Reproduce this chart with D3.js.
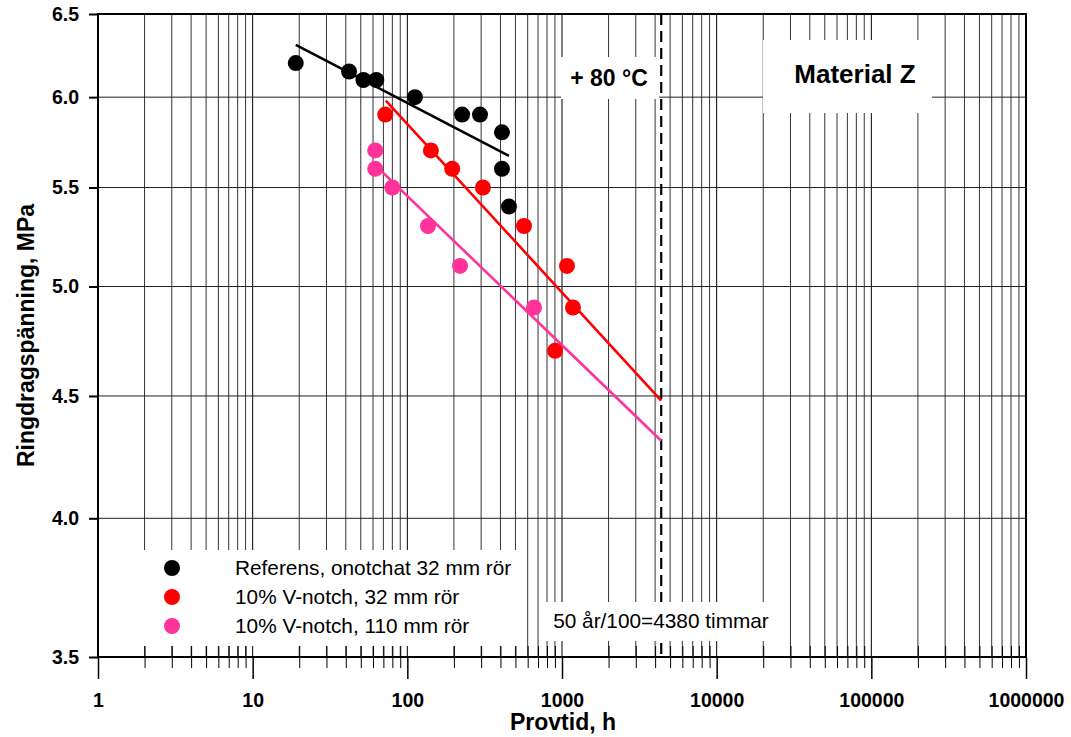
<!DOCTYPE html>
<html>
<head>
<meta charset="utf-8">
<script src="https://cdn.jsdelivr.net/npm/d3@7"></script>
<style>
  html, body { margin: 0; padding: 0; background: #fff; }
  svg { display: block; font-family: "Liberation Sans", Arial, sans-serif; }
</style>
</head>
<body>
<svg id="chart" width="1071" height="737"></svg>
<script>
// ---------- data ----------
const xTickValues = [1, 10, 100, 1000, 10000, 100000, 1000000];
const yTickValues = [3.5, 4.0, 4.5, 5.0, 5.5, 6.0, 6.5];

const seriesNames = ["Referens, onotchat 32 mm rör", "10% V-notch, 32 mm rör", "10% V-notch, 110 mm rör"];
const seriesColors = ["#000000", "#ff0000", "#ff3399"];

const refTime   = [19, 42, 52, 63, 112, 226, 295, 409, 409, 454];
const refStress = [6.2, 6.15, 6.1, 6.1, 6.0, 5.9, 5.9, 5.8, 5.6, 5.4];

const v32Time   = [72, 142, 195, 308, 568, 1077, 1178, 901];
const v32Stress = [5.9, 5.7, 5.6, 5.5, 5.3, 5.1, 4.9, 4.7];

const v110Time   = [62, 62, 80, 136, 219, 659];
const v110Stress = [5.7, 5.6, 5.5, 5.3, 5.1, 4.9];

// regression lines (end points)
const refFitTime    = [19, 454];
const refFitStress  = [6.31, 5.67];
const v32FitTime    = [72.6, 4380];
const v32FitStress  = [5.98, 4.48];
const v110FitTime   = [62, 4380];
const v110FitStress = [5.62, 4.31];

const limitTime = 4380;
const limitLabel = "50 år/100=4380 timmar";
const tempLabel = "+ 80 °C";
const materialLabel = "Material Z";
const xTitle = "Provtid, h";
const yTitle = "Ringdragspänning, MPa";

// ---------- layout ----------
const L = 98, R = 1026, T = 14, B = 657;
const svg = d3.select("#chart");

const x = d3.scaleLog().domain([1, 1000000]).range([L, R]);
const y = d3.scaleLog().domain([3.5, 6.5]).range([B, T]);

const zip = (a, b) => a.map((v, i) => [v, b[i]]);
const series = [
  { name: seriesNames[0], color: seriesColors[0], pts: zip(refTime, refStress),   fit: zip(refFitTime, refFitStress) },
  { name: seriesNames[1], color: seriesColors[1], pts: zip(v32Time, v32Stress),   fit: zip(v32FitTime, v32FitStress) },
  { name: seriesNames[2], color: seriesColors[2], pts: zip(v110Time, v110Stress), fit: zip(v110FitTime, v110FitStress) }
];

// ---------- gridlines ----------
const allX = x.ticks();
svg.append("g").selectAll("line").data(allX.filter(d => d > 1 && d < 1000000)).join("line")
  .attr("x1", d => x(d)).attr("x2", d => x(d))
  .attr("y1", T).attr("y2", B)
  .attr("stroke", d => xTickValues.includes(d) ? "#000" : "#333")
  .attr("stroke-width", 1);

svg.append("g").selectAll("line").data(yTickValues.filter(d => d > 3.5 && d < 6.5)).join("line")
  .attr("x1", L).attr("x2", R)
  .attr("y1", d => y(d)).attr("y2", d => y(d))
  .attr("stroke", "#222").attr("stroke-width", 1);

// dashed limit line
svg.append("line")
  .attr("x1", x(limitTime)).attr("x2", x(limitTime))
  .attr("y1", T).attr("y2", B)
  .attr("stroke", "#000").attr("stroke-width", 2.2)
  .attr("stroke-dasharray", "11,6");

// ---------- white annotation boxes (cover gridlines) ----------
svg.append("rect").attr("x", 140).attr("y", 550).attr("width", 380).attr("height", 96).attr("fill", "#fff");
svg.append("rect").attr("x", 540).attr("y", 602).attr("width", 246).attr("height", 39).attr("fill", "#fff");
svg.append("rect").attr("x", 561).attr("y", 57).attr("width", 98).attr("height", 42).attr("fill", "#fff");
svg.append("rect").attr("x", 763).attr("y", 40).attr("width", 169).attr("height", 73).attr("fill", "#fff");

// ---------- axes ----------
const xAxisMinor = d3.axisBottom(x).tickValues(allX.filter(d => !xTickValues.includes(d))).tickSize(11).tickFormat("");
svg.append("g").attr("transform", `translate(0,${B - 11})`).call(xAxisMinor)
  .call(g => g.select(".domain").remove())
  .call(g => g.selectAll("line").attr("stroke", "#000").attr("stroke-width", 1).attr("y2", 22));

const xAxis = d3.axisBottom(x).tickValues(xTickValues).tickSize(22).tickPadding(8).tickFormat(d3.format("d"));
svg.append("g").attr("transform", `translate(0,${B})`).call(xAxis)
  .call(g => g.select(".domain").remove())
  .call(g => g.selectAll("line").attr("stroke", "#000").attr("stroke-width", 1.5))
  .call(g => g.selectAll("text").attr("fill", "#000").attr("font-size", "19.5px").attr("font-weight", "bold")
    .attr("font-family", "Liberation Sans, Arial, sans-serif").attr("y", 36).attr("dy", "0.71em"));

const yAxis = d3.axisLeft(y).tickValues(yTickValues).tickSize(9).tickPadding(10).tickFormat(d3.format(".1f"));
svg.append("g").attr("transform", `translate(${L},0)`).call(yAxis)
  .call(g => g.select(".domain").remove())
  .call(g => g.selectAll("line").attr("stroke", "#000").attr("stroke-width", 2))
  .call(g => g.selectAll("text").attr("fill", "#000").attr("font-size", "19.5px").attr("font-weight", "bold")
    .attr("font-family", "Liberation Sans, Arial, sans-serif").attr("x", -19));

// frame
svg.append("rect").attr("x", L).attr("y", T).attr("width", R - L).attr("height", B - T)
  .attr("fill", "none").attr("stroke", "#000").attr("stroke-width", 2);

// ---------- fit lines ----------
const line = d3.line().x(d => x(d[0])).y(d => y(d[1]));
series.forEach(s => {
  svg.append("path").datum(s.fit).attr("d", line)
    .attr("fill", "none").attr("stroke", s.color).attr("stroke-width", 2.6);
});

// ---------- points ----------
series.forEach(s => {
  svg.append("g").selectAll("circle").data(s.pts).join("circle")
    .attr("cx", d => x(d[0])).attr("cy", d => y(d[1])).attr("r", 8)
    .attr("fill", s.color);
});

// ---------- legend ----------
const lg = svg.append("g");
series.forEach((s, i) => {
  lg.append("circle").attr("cx", 172).attr("cy", 568 + i * 29).attr("r", 8).attr("fill", s.color);
  lg.append("text").attr("x", 235).attr("y", 568 + i * 29).attr("dy", "0.36em")
    .attr("font-size", "20.8px").attr("fill", "#000").text(s.name);
});

// ---------- annotations ----------
svg.append("text").attr("x", 661).attr("y", 628).attr("text-anchor", "middle")
  .attr("font-size", "20.8px").attr("fill", "#000").text(limitLabel);
svg.append("text").attr("x", 609).attr("y", 86).attr("text-anchor", "middle")
  .attr("font-size", "23px").attr("font-weight", "bold").attr("fill", "#000").text(tempLabel);
svg.append("text").attr("x", 855).attr("y", 83).attr("text-anchor", "middle")
  .attr("font-size", "26px").attr("font-weight", "bold").attr("fill", "#000").text(materialLabel);

// ---------- axis titles ----------
svg.append("text").attr("x", 563).attr("y", 730).attr("text-anchor", "middle")
  .attr("font-size", "23px").attr("font-weight", "bold").attr("fill", "#000").text(xTitle);
svg.append("text").attr("transform", `translate(34,${(T + B) / 2}) rotate(-90)`).attr("text-anchor", "middle")
  .attr("font-size", "23px").attr("font-weight", "bold").attr("fill", "#000").text(yTitle);
</script>
</body>
</html>
